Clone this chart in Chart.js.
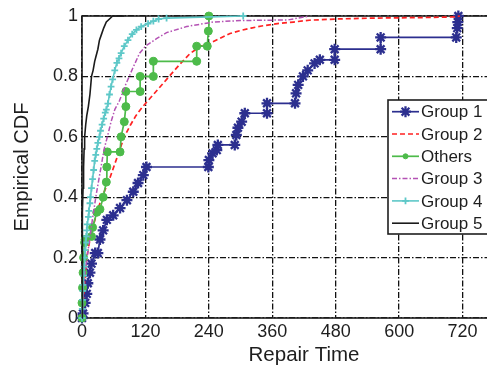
<!DOCTYPE html>
<html>
<head>
<meta charset="utf-8">
<script src="https://cdn.jsdelivr.net/npm/chart.js"></script>
<style>
  html, body { margin: 0; padding: 0; background: #fff; overflow: hidden; }
  #wrap { width: 487px; height: 368px; overflow: hidden; }
  #box { width: 560px; height: 368px; }
</style>
</head>
<body>
<div id="wrap"><div id="box"><canvas id="c" width="560" height="368"></canvas></div></div>
<script>
// Axis ticks
const xTicks = [0, 120, 240, 360, 480, 600, 720, 840];
const yTicks = [0, 0.2, 0.4, 0.6, 0.8, 1];

// Empirical CDF vertices per group: repair time and cumulative fraction
const group1Time = [0, 2, 6, 9, 11, 15, 18, 25, 30, 34, 40, 47, 59, 72, 85, 97, 106, 116, 122, 239,
  240, 247, 255, 257, 289, 292, 295, 302, 308, 350, 350, 403, 405, 409, 418, 427, 440, 450, 478, 478,
  565, 565, 708, 710, 711, 712];
const group1Cdf = [0, 0.015, 0.05, 0.08, 0.115, 0.15, 0.18, 0.215, 0.215, 0.26, 0.29, 0.325, 0.34, 0.364, 0.39, 0.418, 0.447, 0.473, 0.5, 0.5,
  0.523, 0.545, 0.556, 0.573, 0.573, 0.606, 0.63, 0.65, 0.678, 0.678, 0.711, 0.711, 0.744, 0.772, 0.8, 0.82, 0.843, 0.855, 0.855, 0.89,
  0.89, 0.929, 0.929, 0.96, 0.98, 1.0];

const group2Time = [0, 2, 5, 9, 15, 22, 30, 40, 50, 60, 70, 80, 92, 102, 115, 130, 150, 165, 185, 204,
  224, 242, 260, 280, 300, 320, 340, 370, 400, 430, 480, 550, 650, 705, 715];
const group2Cdf = [0, 0.05, 0.12, 0.2, 0.26, 0.31, 0.36, 0.41, 0.45, 0.5, 0.55, 0.6, 0.64, 0.67, 0.7, 0.73, 0.77, 0.8, 0.84, 0.875,
  0.9, 0.91, 0.925, 0.942, 0.952, 0.96, 0.967, 0.975, 0.98, 0.986, 0.99, 0.993, 0.995, 0.997, 1.0];

const othersTime = [0, 0, 1, 2, 3, 5, 6, 18, 20, 28, 34, 40, 46, 47, 48, 72, 74, 80, 83, 83,
  110, 110, 135, 135, 217, 217, 237, 239, 240];
const othersCdf = [0, 0.05, 0.1, 0.15, 0.2, 0.25, 0.26, 0.27, 0.3, 0.35, 0.36, 0.4, 0.45, 0.5, 0.55, 0.55, 0.6, 0.65, 0.7, 0.75,
  0.75, 0.8, 0.8, 0.85, 0.85, 0.9, 0.9, 0.95, 1.0];

const group3Time = [0, 3, 7, 12, 20, 27, 32, 36, 42, 48, 55, 62, 71, 82, 96, 109, 120, 141, 160, 198, 248, 300, 390, 430];
const group3Cdf = [0, 0.1, 0.17, 0.23, 0.33, 0.41, 0.46, 0.5, 0.56, 0.6, 0.65, 0.69, 0.72, 0.77, 0.827, 0.877, 0.9, 0.925, 0.945, 0.965, 0.98, 0.985, 0.987, 1.0];

const group4Time = [0, 0.5, 1, 1.5, 2, 3, 4, 5, 6, 7, 8, 9, 10, 12, 13, 15, 16, 18, 20, 22,
  24, 26, 28, 30, 33, 35, 38, 41, 44, 46, 49, 52, 55, 58, 62, 66, 70, 74, 80, 87,
  95, 103, 112, 125, 135, 145, 160, 305];
const group4Cdf = [0, 0.03, 0.06, 0.09, 0.11, 0.14, 0.17, 0.2, 0.225, 0.25, 0.27, 0.29, 0.31, 0.335, 0.355, 0.38, 0.4, 0.43, 0.46, 0.49,
  0.52, 0.54, 0.56, 0.58, 0.6, 0.62, 0.64, 0.66, 0.68, 0.69, 0.71, 0.74, 0.766, 0.79, 0.82, 0.845, 0.86, 0.877, 0.9, 0.92,
  0.94, 0.954, 0.965, 0.975, 0.983, 0.99, 0.993, 1.0];

const group5Time = [0, 0.5, 1, 2, 3, 4, 5, 7, 9, 12, 15, 18, 21, 24, 27, 30, 33, 37, 41, 46, 52, 58, 80];
const group5Cdf = [0, 0.2, 0.35, 0.43, 0.5, 0.56, 0.6, 0.64, 0.67, 0.7, 0.74, 0.8, 0.82, 0.85, 0.87, 0.89, 0.92, 0.94, 0.96, 0.98, 0.99, 1.0, 1.0];

const FONT = "'Liberation Sans', Arial, Helvetica, sans-serif";
const INK = '#1e1e1e';

function pts(t, f) { return t.map((x, i) => ({ x: x, y: f[i] })); }

const datasets = [
  { label: 'Group 1', data: pts(group1Time, group1Cdf), borderColor: '#2c2f8f', backgroundColor: '#2c2f8f',
    borderWidth: 1.7, pointStyle: 'star', pointRadius: 5.5, pointBorderWidth: 2.3, order: 6 },
  { label: 'Group 2', data: pts(group2Time, group2Cdf), borderColor: '#ff2222', backgroundColor: '#ff2222',
    borderWidth: 1.7, borderDash: [5, 3], pointRadius: 0, order: 5 },
  { label: 'Others', data: pts(othersTime, othersCdf), borderColor: '#4dbb4a', backgroundColor: '#4dbb4a',
    borderWidth: 1.7, pointStyle: 'circle', pointRadius: 4, pointBorderWidth: 1, order: 4 },
  { label: 'Group 3', data: pts(group3Time, group3Cdf), borderColor: '#b452b4', backgroundColor: '#b452b4',
    borderWidth: 1.5, borderDash: [5, 2, 1.5, 2], pointRadius: 0, order: 3 },
  { label: 'Group 4', data: pts(group4Time, group4Cdf), borderColor: '#5ec8c8', backgroundColor: '#5ec8c8',
    borderWidth: 1.6, pointStyle: 'cross', pointRadius: 3.4, pointBorderWidth: 1.8, order: 2 },
  { label: 'Group 5', data: pts(group5Time, group5Cdf), borderColor: '#1b1b1b', backgroundColor: '#1b1b1b',
    borderWidth: 1.6, pointRadius: 0, order: 1 }
];
datasets.forEach(d => { d.clip = false; d.fill = false; d.tension = 0; });

// Draw a marker of the given style (used by the legend box)
function marker(ctx, style, x, y, r, color, lw) {
  ctx.save();
  ctx.strokeStyle = color; ctx.fillStyle = color; ctx.lineWidth = lw; ctx.setLineDash([]);
  ctx.beginPath();
  if (style === 'circle') {
    ctx.arc(x, y, r, 0, Math.PI * 2); ctx.fill(); ctx.stroke();
  } else if (style === 'cross') {
    ctx.moveTo(x - r, y); ctx.lineTo(x + r, y); ctx.moveTo(x, y - r); ctx.lineTo(x, y + r); ctx.stroke();
  } else if (style === 'star') {
    const d = r * Math.SQRT1_2;
    ctx.moveTo(x - r, y); ctx.lineTo(x + r, y); ctx.moveTo(x, y - r); ctx.lineTo(x, y + r);
    ctx.moveTo(x - d, y - d); ctx.lineTo(x + d, y + d); ctx.moveTo(x - d, y + d); ctx.lineTo(x + d, y - d);
    ctx.stroke();
  }
  ctx.restore();
}

// Axes box drawn above the grid, below the curves
const frame = {
  id: 'frame',
  beforeDatasetsDraw(chart) {
    const a = chart.chartArea, ctx = chart.ctx;
    ctx.save();
    ctx.strokeStyle = INK; ctx.lineWidth = 1.6;
    ctx.strokeRect(a.left, a.top, a.right - a.left, a.bottom - a.top);
    ctx.restore();
  }
};

// Boxed legend at the east side of the axes
const legendBox = {
  id: 'legendBox',
  afterDraw(chart) {
    const a = chart.chartArea, ctx = chart.ctx;
    const rowH = 22.3, w = 130, h = 134;
    const left = a.right - 138;
    const top = (a.top + a.bottom) / 2 - h / 2;
    ctx.save();
    ctx.fillStyle = '#fff';
    ctx.fillRect(left, top, w, h);
    ctx.strokeStyle = INK; ctx.lineWidth = 1.6;
    ctx.strokeRect(left, top, w, h);
    chart.data.datasets.forEach((ds, i) => {
      const y = top + 11.7 + i * rowH;
      ctx.save();
      ctx.strokeStyle = ds.borderColor; ctx.lineWidth = ds.borderWidth;
      ctx.setLineDash(ds.borderDash || []);
      ctx.beginPath(); ctx.moveTo(left + 4, y); ctx.lineTo(left + 31, y); ctx.stroke();
      ctx.restore();
      if (ds.pointRadius > 0) {
        marker(ctx, ds.pointStyle, left + 17.5, y, ds.pointStyle === 'circle' ? 2.5 : ds.pointRadius, ds.borderColor, ds.pointBorderWidth);
      }
      ctx.fillStyle = INK;
      ctx.font = '17px ' + FONT;
      ctx.textBaseline = 'middle';
      ctx.textAlign = 'left';
      ctx.fillText(ds.label, left + 33, y + 1);
    });
    ctx.restore();
  }
};

const gridDash = [6, 2, 1.5, 2];
const fmt = v => String(Number(v.toFixed(1)));

new Chart(document.getElementById('c'), {
  type: 'line',
  data: { datasets: datasets },
  plugins: [frame, legendBox],
  options: {
    responsive: false,
    animation: false,
    layout: { padding: { top: 16, right: 34, left: 0, bottom: 0 } },
    plugins: { legend: { display: false }, tooltip: { enabled: false } },
    scales: {
      x: {
        type: 'linear', min: 0, max: 840,
        afterBuildTicks: s => { s.ticks = xTicks.map(v => ({ value: v })); },
        afterFit: s => { s.height = 50; s.paddingLeft = 0; s.paddingRight = 0; },
        grid: { color: '#111', lineWidth: 1.3, drawTicks: false },
        border: { display: false, dash: gridDash },
        ticks: { color: INK, font: { family: FONT, size: 18 }, padding: 3, maxRotation: 0, autoSkip: false, callback: fmt },
        title: { display: true, text: 'Repair Time', color: INK, font: { family: FONT, size: 20.5 }, padding: { top: 0, bottom: 0 } }
      },
      y: {
        type: 'linear', min: 0, max: 1,
        afterBuildTicks: s => { s.ticks = yTicks.map(v => ({ value: v })); },
        afterFit: s => { s.width = 82; s.paddingTop = 0; s.paddingBottom = 0; },
        grid: { color: '#111', lineWidth: 1.3, drawTicks: false },
        border: { display: false, dash: gridDash },
        ticks: { color: INK, font: { family: FONT, size: 18 }, padding: 4, autoSkip: false, callback: fmt },
        title: { display: true, text: 'Empirical CDF', color: INK, font: { family: FONT, size: 20 }, padding: { top: 10, bottom: 0 } }
      }
    }
  }
});
</script>
</body>
</html>
